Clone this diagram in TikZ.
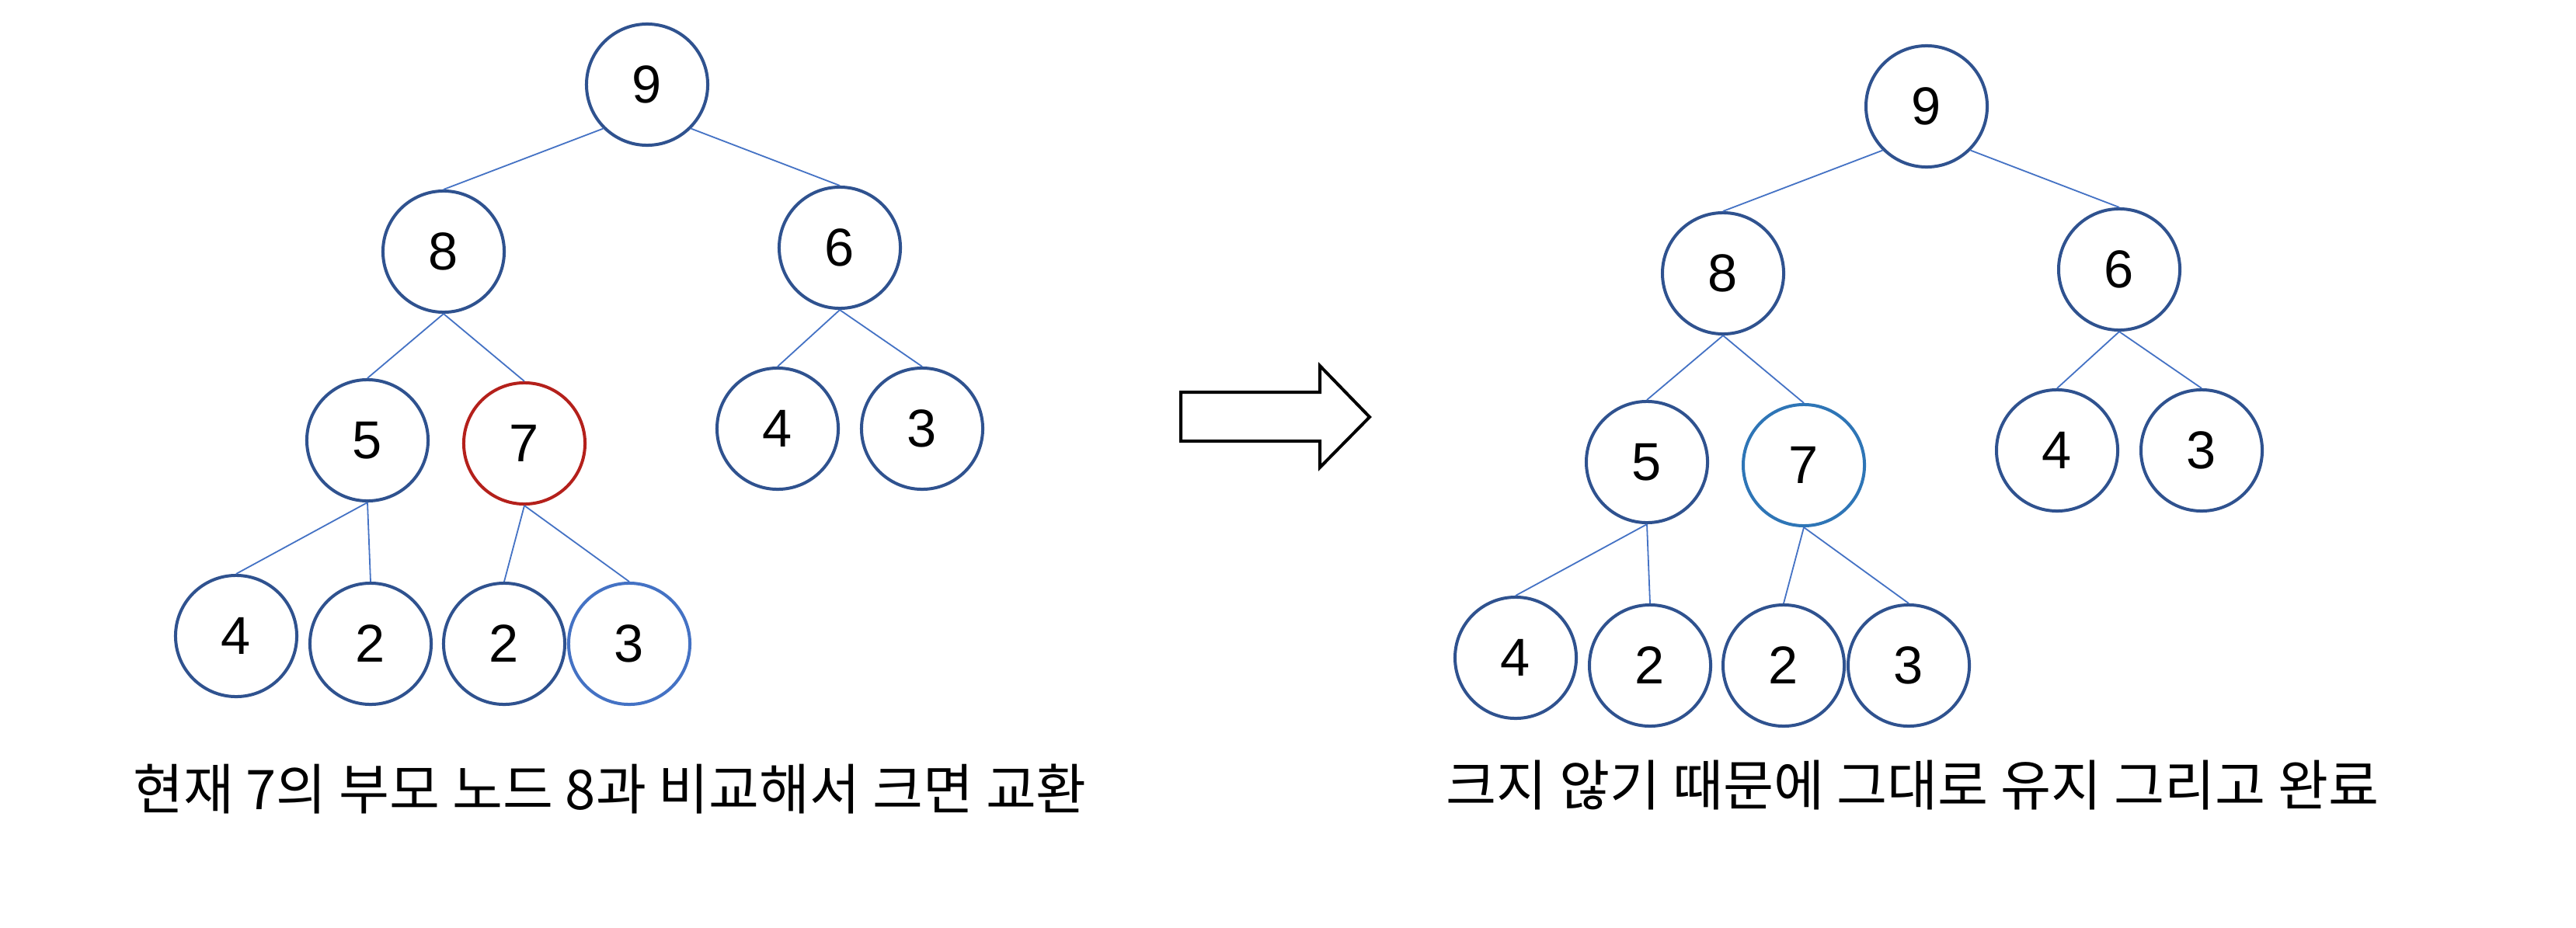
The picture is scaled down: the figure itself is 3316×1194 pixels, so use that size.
\documentclass[tikz,border=0pt]{standalone}
\usepackage{fontspec}
\setmainfont{Liberation Sans}
\newfontfamily\krfont{Noto Sans CJK KR}
\usepackage{graphicx}
\definecolor{nodeblue}{HTML}{2F528F}
\definecolor{edgeblue}{HTML}{4472C4}
\definecolor{lightblue}{HTML}{4472C4}
\definecolor{midblue}{HTML}{2E75B6}
\definecolor{redring}{HTML}{B4201B}
\tikzset{
  heapnode/.style={circle, draw=nodeblue, line width=0.04cm, fill=white, minimum size=1.56cm, inner sep=0pt, font=\fontsize{19.5pt}{19.5pt}\selectfont},
  hotnode/.style={heapnode, draw=redring},
  lightnode/.style={heapnode, draw=lightblue},
  midnode/.style={heapnode, draw=midblue},
  link/.style={draw=edgeblue, line width=0.018cm},
  caption/.style={inner sep=0pt, font=\krfont},
  bigarrow/.style={draw=black, fill=white, line width=0.04cm, line join=miter}
}
\begin{document}
\begin{tikzpicture}[x=0.01cm, y=-0.01cm]
\useasboundingbox (0,0) rectangle (3316,1194);
% left tree
\node[heapnode] (a9) at (833,109) {9};
\node[heapnode] (a8) at (571,324) {8};
\node[heapnode] (a6) at (1081,319) {6};
\node[heapnode] (a5) at (473,567) {5};
\node[hotnode] (a7) at (675,571) {7};
\node[heapnode] (a4r) at (1001,552) {4};
\node[heapnode] (a3r) at (1187,552) {3};
\node[heapnode] (ab4) at (304,819) {4};
\node[heapnode] (ab2) at (477,829) {2};
\node[heapnode] (ab2b) at (649,829) {2};
\node[lightnode] (ab3) at (810,829) {3};
\draw[link] (a9.south west) -- (a8.north);
\draw[link] (a9.south east) -- (a6.north);
\draw[link] (a8.south) -- (a5.north);
\draw[link] (a8.south) -- (a7.north);
\draw[link] (a6.south) -- (a4r.north);
\draw[link] (a6.south) -- (a3r.north);
\draw[link] (a5.south) -- (ab4.north);
\draw[link] (a5.south) -- (ab2.north);
\draw[link] (a7.south) -- (ab2b.north);
\draw[link] (a7.south) -- (ab3.north);
\node[caption] (lcap) at (785,1016) {\resizebox{12.27cm}{!}{현재 7의 부모 노드 8과 비교해서 크면 교환}};
% arrow
\draw[bigarrow] (1520,505) -- (1699,505) -- (1699,471) -- (1763,537) -- (1699,602) -- (1699,568) -- (1520,568) -- cycle;
% right tree
\begin{scope}[shift={(1647,28)}]
\node[heapnode] (b9) at (833,109) {9};
\node[heapnode] (b8) at (571,324) {8};
\node[heapnode] (b6) at (1081,319) {6};
\node[heapnode] (b5) at (473,567) {5};
\node[midnode] (b7) at (675,571) {7};
\node[heapnode] (b4r) at (1001,552) {4};
\node[heapnode] (b3r) at (1187,552) {3};
\node[heapnode] (bb4) at (304,819) {4};
\node[heapnode] (bb2) at (477,829) {2};
\node[heapnode] (bb2b) at (649,829) {2};
\node[heapnode] (bb3) at (810,829) {3};
\end{scope}
\draw[link] (b9.south west) -- (b8.north);
\draw[link] (b9.south east) -- (b6.north);
\draw[link] (b8.south) -- (b5.north);
\draw[link] (b8.south) -- (b7.north);
\draw[link] (b6.south) -- (b4r.north);
\draw[link] (b6.south) -- (b3r.north);
\draw[link] (b5.south) -- (bb4.north);
\draw[link] (b5.south) -- (bb2.north);
\draw[link] (b7.south) -- (bb2b.north);
\draw[link] (b7.south) -- (bb3.north);
\node[caption] (rcap) at (2462,1011) {\resizebox{12.0cm}{!}{크지 않기 때문에 그대로 유지 그리고 완료}};
\end{tikzpicture}
\end{document}
